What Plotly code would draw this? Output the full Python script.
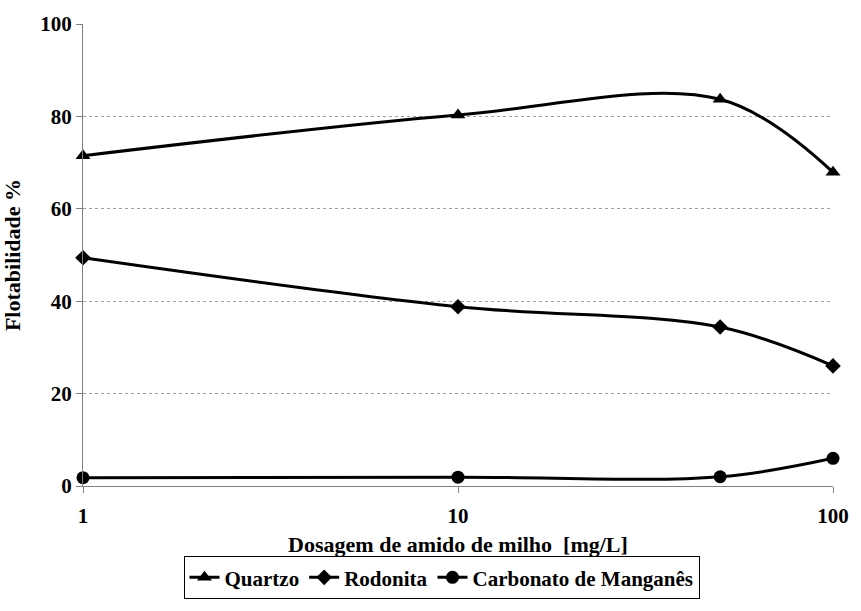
import plotly.graph_objects as go

dosagem = [1, 10, 50, 100]
quartzo = [71.5, 80.3, 83.7, 67.9]
rodonita = [49.4, 38.8, 34.4, 26.0]
carbonato = [1.8, 1.9, 2.0, 6.0]

series = [
    ("Quartzo", quartzo, "triangle-up", 13),
    ("Rodonita", rodonita, "diamond", 12),
    ("Carbonato de Manganês", carbonato, "circle", 13),
]

FONT = "Liberation Serif"

fig = go.Figure()
for name, vals, sym, sz in series:
    fig.add_trace(go.Scatter(
        x=dosagem, y=vals, name=name, mode="lines+markers",
        line=dict(color="black", width=3, shape="spline", smoothing=1.0),
        marker=dict(symbol=sym, size=sz, color="black"),
        cliponaxis=False,
    ))

fig.update_layout(
    width=861, height=611,
    margin=dict(l=83, r=16, t=16, b=107),
    paper_bgcolor="white", plot_bgcolor="white",
    font=dict(family=FONT, size=18, color="black", weight="bold"),
    showlegend=True,
    legend=dict(
        orientation="h", x=0.478, xanchor="center", y=-0.152, yanchor="top",
        bordercolor="black", borderwidth=1, bgcolor="white",
        font=dict(family=FONT, size=21, color="black", weight="bold"),
        itemwidth=30, tracegroupgap=0,
    ),
)

fig.update_xaxes(
    type="log", range=[0, 2],
    tickvals=[1, 10, 100], ticktext=["1", "10", "100"],
    ticks="outside", ticklen=6, tickcolor="#808080",
    showline=True, linecolor="#808080", linewidth=1,
    showgrid=False, zeroline=False,
    tickfont=dict(family=FONT, size=21, weight="bold"),
    ticklabelstandoff=5,
    title=dict(text="Dosagem de amido de milho  [mg/L]", standoff=9,
               font=dict(family=FONT, size=22, weight="bold")),
)
fig.update_yaxes(
    range=[0, 100], tickvals=[0, 20, 40, 60, 80, 100],
    ticks="outside", ticklen=6, tickcolor="#808080",
    showline=True, linecolor="#808080", linewidth=1,
    showgrid=True, gridcolor="#a0a0a0", griddash="dot", gridwidth=1,
    zeroline=False,
    tickfont=dict(family=FONT, size=21, weight="bold"),
    title=dict(text="Flotabilidade %", standoff=13,
               font=dict(family=FONT, size=22, weight="bold")),
)

fig.write_html("out.html")
